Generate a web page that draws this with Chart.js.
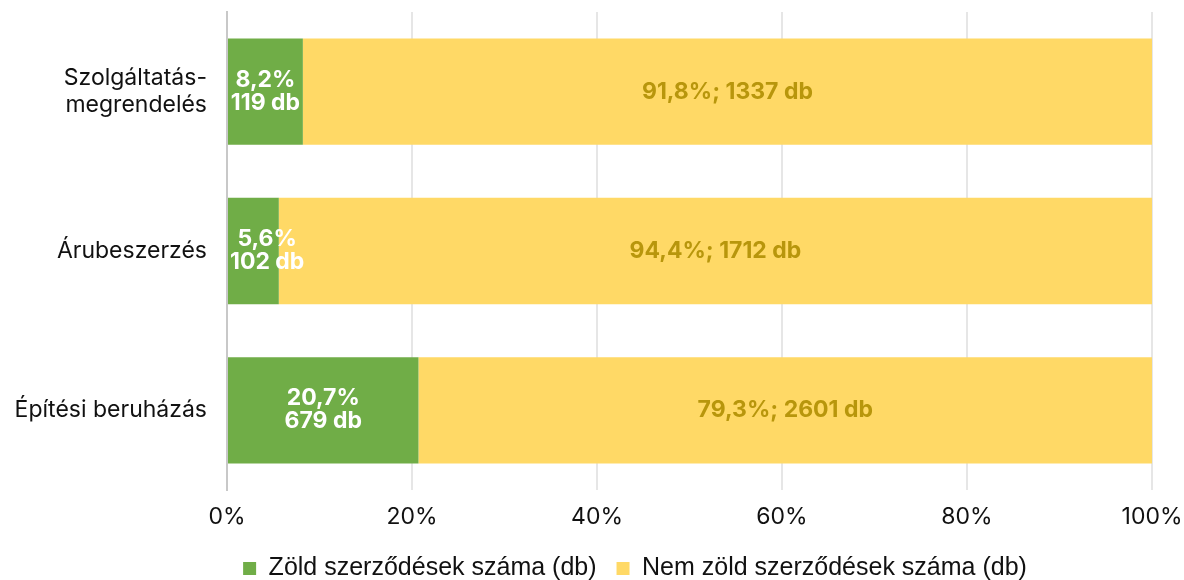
<!DOCTYPE html>
<html>
<head>
<meta charset="utf-8">
<script src="https://cdn.jsdelivr.net/npm/chart.js@4"></script>
<style>
  html, body { margin: 0; padding: 0; background: #fff; }
  #wrap { width: 1184px; height: 580px; position: relative; }
</style>
</head>
<body>
<div id="wrap"><canvas id="grafikon"></canvas></div>
<script>
// Kategóriák és adatok
const kategoriak = [['Szolgáltatás-', 'megrendelés'], 'Árubeszerzés', 'Építési beruházás'];
const zoldSzazalek = [8.2, 5.6, 20.7];
const zoldDarab = [119, 102, 679];
const nemZoldSzazalek = [91.8, 94.4, 79.3];
const nemZoldDarab = [1337, 1712, 2601];
const xTickek = [0, 20, 40, 60, 80, 100];

const zold = '#70AD47';
const sarga = '#FFD966';

const fmt = v => v.toFixed(1).replace('.', ',');

// Saját címke plugin (nincs datalabels)
const cimkek = {
    id: 'cimkek',
    afterLayout(chart) {
        // jelmagyarázat kicsit jobbra, mint az eredetin
        chart.legend.left += 59;
        chart.legend.right += 59;
    },
    afterDatasetsDraw(chart) {
        const ctx = chart.ctx;
        ctx.save();
        ctx.font = 'bold 23px Inter, "Noto Sans", sans-serif';
        ctx.textBaseline = 'middle';
        ctx.textAlign = 'center';
        // zöld sávok: két sor
        chart.getDatasetMeta(0).data.forEach((bar, i) => {
            const sorok = [fmt(zoldSzazalek[i]) + '%', zoldDarab[i] + ' db'];
            const w = Math.max(...sorok.map(s => ctx.measureText(s).width));
            const x = Math.max((bar.x + bar.base) / 2, bar.base + w / 2 + 2);
            ctx.fillStyle = '#ffffff';
            ctx.fillText(sorok[0], x, bar.y - 12);
            ctx.fillText(sorok[1], x, bar.y + 11);
        });
        // sárga sávok: egy sor
        chart.getDatasetMeta(1).data.forEach((bar, i) => {
            const x = (bar.x + bar.base) / 2;
            ctx.fillStyle = '#B8960C';
            ctx.fillText(fmt(nemZoldSzazalek[i]) + '%; ' + nemZoldDarab[i] + ' db', x, bar.y);
        });
        ctx.restore();
    }
};

const ctx = document.getElementById('grafikon').getContext('2d');

new Chart(ctx, {
    type: 'bar',
    data: {
        labels: kategoriak,
        datasets: [{
            label: 'Zöld szerződések száma (db)',
            data: zoldSzazalek,
            backgroundColor: zold,
            barPercentage: 0.667,
            categoryPercentage: 1
        }, {
            label: 'Nem zöld szerződések száma (db)',
            data: nemZoldSzazalek,
            backgroundColor: sarga,
            barPercentage: 0.667,
            categoryPercentage: 1
        }]
    },
    options: {
        indexAxis: 'y',
        responsive: true,
        maintainAspectRatio: false,
        animation: false,
        layout: { padding: { top: 12, right: 32, bottom: -11, left: 0 } },
        plugins: {
            legend: {
                position: 'bottom',
                labels: {
                    boxWidth: 13,
                    boxHeight: 13,
                    padding: 20,
                    color: '#111',
                    font: { size: 25, family: '"Liberation Sans Narrow", "Arial Narrow", sans-serif' }
                }
            },
            tooltip: { enabled: false }
        },
        scales: {
            x: {
                stacked: true,
                min: 0,
                max: 100,
                afterBuildTicks: s => { s.ticks = xTickek.map(v => ({ value: v })); },
                afterFit: s => { s.height = 46; s.paddingLeft = 0; s.paddingRight = 0; },
                grid: { color: '#e6e6e6', lineWidth: 2, drawTicks: false },
                border: { display: false },
                ticks: {
                    padding: 13,
                    color: '#111',
                    font: { size: 23, family: 'Inter, sans-serif' },
                    callback: v => v + '%'
                }
            },
            y: {
                stacked: true,
                afterFit: s => { s.width = 227; s.paddingTop = 0; s.paddingBottom = 0; },
                grid: { display: false, drawTicks: false },
                border: { display: true, color: '#c8c8c8', width: 2 },
                ticks: {
                    padding: 20,
                    color: '#111',
                    font: { size: 23, family: 'Inter, sans-serif' }
                }
            }
        }
    },
    plugins: [cimkek]
});
</script>
</body>
</html>
